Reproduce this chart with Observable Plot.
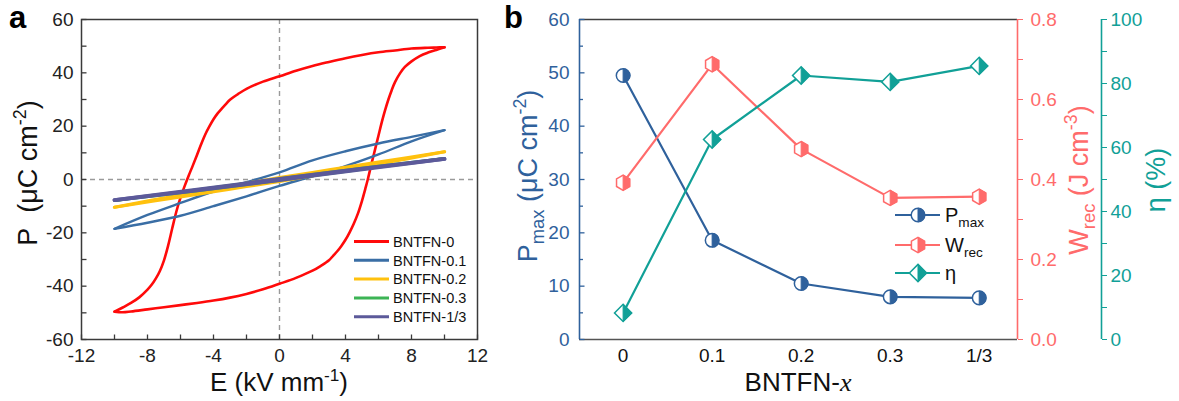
<!DOCTYPE html>
<html><head><meta charset="utf-8">
<script src="https://cdn.jsdelivr.net/npm/d3@7"></script>
<script src="https://cdn.jsdelivr.net/npm/@observablehq/plot@0.6"></script>
<style>
html,body{margin:0;padding:0;background:#fff;}
#wrap{position:relative;width:1179px;height:401px;overflow:hidden;background:#fff;}
#pa{position:absolute;left:0;top:0;}
#pb{position:absolute;left:490px;top:0;}
text{white-space:pre;}
</style></head><body>
<div id="wrap"><div id="pa"></div><div id="pb"></div></div>
<script>
// ---------------- Panel a data (P–E loops) ----------------
const seriesNames  = ["BNTFN-0","BNTFN-0.1","BNTFN-0.2","BNTFN-0.3","BNTFN-1/3"];
const seriesColors = ["#ff0a0a","#3a6ea5","#ffc10e","#3cb455","#5c5a9a"];
const seriesWidths = [2.6,2.4,3.2,2.2,3.8];

const E0_up = [10,9.5,9,8,7,6,5,4,3,2,1,0,-1,-2,-2.5,-3,-3.25,-3.5,-3.75,-4,-4.25,-4.5,-4.75,-5,-5.25,-5.5,-5.75,-6,-6.25,-6.5,-6.75,-7,-7.25,-7.5,-7.75,-8,-8.5,-9,-9.5,-10];
const P0_up = [49.6,49.5,49.4,49.1,48.4,47.7,46.7,45.5,44.1,42.6,40.8,38.7,36.7,34.0,32.1,29.9,28.3,26.6,24.8,22.6,19.9,16.9,13.2,9.2,5.3,1.5,-2.5,-6.8,-12.0,-18.3,-24.8,-30.3,-34.3,-37.2,-39.5,-41.3,-44.2,-46.3,-48.0,-49.6];
const E0_dn = [-10,-9.5,-9,-8,-7,-6,-5,-4,-3,-2,-1,0,1,2,2.5,3,3.25,3.5,3.75,4,4.25,4.5,4.75,5,5.2,5.35,5.6,5.8,6,6.2,6.4,6.6,6.8,7,7.3,7.6,8,8.5,9,9.5,10];
const P0_dn = [-49.6,-49.8,-49.5,-48.7,-47.9,-47.1,-46.3,-45.4,-44.3,-42.9,-41.2,-39.1,-36.9,-34.2,-32.4,-30.3,-28.6,-26.9,-24.9,-22.6,-19.8,-16.6,-12.8,-8.0,-3.5,0,6.5,11.5,16.5,21.5,26.0,30.0,33.5,36.5,39.8,42.2,44.3,46.3,47.6,48.6,49.6];

const E1_up = [10,8,6,4,2,0,-2,-4,-6,-8,-10];
const P1_up = [18.5,16.0,13.5,10.6,7.2,2.7,-1.0,-4.5,-8.8,-13.3,-18.5];
const E1_dn = [-10,-8,-6,-4,-2,0,2,4,6,8,10];
const P1_dn = [-18.5,-16.2,-13.6,-10.0,-6.3,-2.4,1.2,5.0,9.4,14.3,18.5];

const E2_up = [10,6,3,0,-3,-6,-10];
const P2_up = [10.4,6.5,3.6,0.7,-2.5,-5.8,-10.4];
const E2_dn = [-10,-6,-3,0,3,6,10];
const P2_dn = [-10.4,-6.5,-3.6,-0.7,2.5,5.8,10.4];

const E3_up = [10,5,0,-5,-10];
const P3_up = [8.0,4.4,0.4,-3.7,-8.0];
const E3_dn = [-10,-5,0,5,10];
const P3_dn = [-8.0,-4.4,-0.4,3.7,8.0];

const E4_up = [10,5,0,-5,-10];
const P4_up = [7.7,4.1,0.2,-3.8,-7.7];
const E4_dn = [-10,-5,0,5,10];
const P4_dn = [-7.7,-4.1,-0.2,3.8,7.7];

const xTicksA = [-12,-8,-4,0,4,8,12];
const yTicksA = [-60,-40,-20,0,20,40,60];

// ---------------- Panel b data ----------------
const xLabelsB = ["0","0.1","0.2","0.3","1/3"];
const PmaxB = [49.5,18.6,10.5,8.0,7.8];
const WrecB = [0.392,0.688,0.476,0.354,0.357];
const etaB  = [8.3,62.5,82.5,80.5,85.5];
const yTicksB = [0,10,20,30,40,50,60];
const wTicksB = [0,0.1,0.2,0.3,0.4,0.5,0.6,0.7,0.8];
const eTicksB = [0,10,20,30,40,50,60,70,80,90,100];

// ---------------- helpers ----------------
const FF = "'Liberation Sans', Arial, Helvetica, sans-serif";
const FS = "'Liberation Serif', 'DejaVu Serif', serif";
const BLUE = "#2f619c", PINK = "#ff6b6b", TEAL = "#11a097";

const tickSym = (dx, dy) => ({draw(ctx){ ctx.moveTo(0,0); ctx.lineTo(dx,dy); }});
const rr = s => Math.sqrt(s/Math.PI);
const circleFull = {draw(ctx,s){const r=rr(s); ctx.moveTo(r,0); ctx.arc(0,0,r,0,2*Math.PI); ctx.closePath();}};
const circleHalf = {draw(ctx,s){const r=rr(s); ctx.moveTo(0,-r); ctx.arc(0,0,r,-Math.PI/2,Math.PI/2); ctx.closePath();}};
const hexFull = {draw(ctx,s){const r=rr(s), c=r*Math.cos(Math.PI/6); ctx.moveTo(0,-r); ctx.lineTo(c,-r/2); ctx.lineTo(c,r/2); ctx.lineTo(0,r); ctx.lineTo(-c,r/2); ctx.lineTo(-c,-r/2); ctx.closePath();}};
const hexHalf = {draw(ctx,s){const r=rr(s), c=r*Math.cos(Math.PI/6); ctx.moveTo(0,-r); ctx.lineTo(c,-r/2); ctx.lineTo(c,r/2); ctx.lineTo(0,r); ctx.closePath();}};
const diaFull = {draw(ctx,s){const r=rr(s); ctx.moveTo(0,-r); ctx.lineTo(r,0); ctx.lineTo(0,r); ctx.lineTo(-r,0); ctx.closePath();}};
const diaHalf = {draw(ctx,s){const r=rr(s); ctx.moveTo(0,-r); ctx.lineTo(r,0); ctx.lineTo(0,r); ctx.closePath();}};

function rich(sel, {x, y, rot=0, anchor="middle", size, color="#000", weight="normal", parts}) {
  const t = sel.append("text")
    .attr("transform", `translate(${x},${y}) rotate(${rot})`)
    .attr("text-anchor", anchor).attr("font-family", FF)
    .attr("font-size", size).attr("fill", color).attr("font-weight", weight);
  let cur = 0;
  for (const p of parts) {
    const [txt, kind] = typeof p === "string" ? [p, ""] : p;
    const ts = t.append("tspan").text(txt);
    let target = 0, fs = size;
    if (kind === "sup") { target = -0.40*size; fs = 0.66*size; }
    else if (kind === "sub") { target = 0.27*size; fs = 0.68*size; }
    if (kind === "it") ts.attr("font-style","italic").attr("font-family", FS);
    ts.attr("font-size", fs).attr("dy", target - cur);
    cur = target;
  }
  return t;
}

// ---------------- Panel a ----------------
const branches = [
  [[E0_up,P0_up],[E0_dn,P0_dn]],
  [[E1_up,P1_up],[E1_dn,P1_dn]],
  [[E2_up,P2_up],[E2_dn,P2_dn]],
  [[E3_up,P3_up],[E3_dn,P3_dn]],
  [[E4_up,P4_up],[E4_dn,P4_dn]]
];
const lineMarks = [];
branches.forEach((br, si) => {
  const rows = [];
  br.forEach(([E,P], bi) => E.forEach((e,i) => rows.push({E:e, P:P[i], key: bi})));
  lineMarks.push(Plot.line(rows, {x:"E", y:"P", z:"key", stroke: seriesColors[si], strokeWidth: seriesWidths[si], curve:"catmull-rom"}));
});

const plotA = Plot.plot({
  width: 490, height: 401, marginLeft: 81, marginRight: 13, marginTop: 19, marginBottom: 62,
  style: {fontFamily: FF, fontSize: "19px", color: "#222", background: "white", overflow: "visible"},
  x: {domain: [-12,12]}, y: {domain: [-60,60]},
  marks: [
    Plot.ruleX([0], {stroke:"#9a9a9a", strokeWidth:1.4, strokeDasharray:"5,4"}),
    Plot.ruleY([0], {stroke:"#9a9a9a", strokeWidth:1.4, strokeDasharray:"5,4"}),
    ...lineMarks,
    Plot.frame({stroke:"#3a3a3a", strokeWidth:1.5}),
    Plot.dot(d3.range(-60,61,10), {y:d=>d, frameAnchor:"left", symbol: tickSym(5,0), r:3, fill:"none", stroke:"#3a3a3a", strokeWidth:1.3}),
    Plot.dot(d3.range(-12,13,2), {x:d=>d, frameAnchor:"bottom", symbol: tickSym(0,-5), r:3, fill:"none", stroke:"#3a3a3a", strokeWidth:1.3}),
    Plot.axisX({ticks: xTicksA, tickFormat: d=>String(d), tickSize:0, tickPadding:9, label:null, fill:"#222"}),
    Plot.axisY({ticks: yTicksA, tickFormat: d=>String(d), tickSize:0, tickPadding:8, label:null, fill:"#222"})
  ]
});
document.getElementById("pa").appendChild(plotA);
const sa = d3.select(plotA);
rich(sa, {x:9, y:28, anchor:"start", size:31, weight:"bold", parts:["a"]});
rich(sa, {x:37, y:173, rot:-90, size:27, color:"#111", parts:["P\u00a0 (μC cm", ["-2","sup"], ")"]});
rich(sa, {x:279, y:391, size:26, color:"#111", parts:["E (kV mm", ["-1","sup"], ")"]});
// legend a
seriesNames.forEach((nm, i) => {
  const yy = 241.5 + i*18.8;
  sa.append("line").attr("x1",354).attr("x2",389).attr("y1",yy).attr("y2",yy)
    .attr("stroke", seriesColors[i]).attr("stroke-width", 3);
  rich(sa, {x:393, y:yy+5.2, anchor:"start", size:14.5, color:"#111", parts:[nm]});
});

// ---------------- Panel b ----------------
const xDomB = [-0.49, 4.43];
const wScale = 60/0.8, eScale = 60/100;
const rowsB = xLabelsB.map((l,i) => ({i, pm: PmaxB[i], w: WrecB[i]*wScale, e: etaB[i]*eScale}));

function series(key, color, full, half, r) {
  return [
    Plot.line(rowsB, {x:"i", y:key, stroke: color, strokeWidth: 2.2}),
    Plot.dot(rowsB, {x:"i", y:key, symbol: full, r, fill:"white", stroke: color, strokeWidth: 1.5}),
    Plot.dot(rowsB, {x:"i", y:key, symbol: half, r, fill: color, stroke: color, strokeWidth: 1})
  ];
}

const plotB = Plot.plot({
  width: 689, height: 401, marginLeft: 89, marginRight: 162, marginTop: 19, marginBottom: 62,
  style: {fontFamily: FF, fontSize: "19px", color: "#222", background: "white", overflow: "visible"},
  x: {domain: xDomB}, y: {domain: [0,60]},
  marks: [
    Plot.ruleY([60], {stroke:"#404040", strokeWidth:1.6}),
    Plot.ruleY([0], {stroke:"#555", strokeWidth:1.6}),
    Plot.ruleX([xDomB[0]], {stroke: BLUE, strokeWidth:1.6}),
    Plot.ruleX([xDomB[1]], {stroke: PINK, strokeWidth:1.6}),
    Plot.ruleX([xDomB[1]], {dx: 84, stroke: TEAL, strokeWidth:1.6}),
    Plot.dot(d3.range(0,61,10), {y:d=>d, frameAnchor:"left", symbol: tickSym(5,0), r:3, fill:"none", stroke: BLUE, strokeWidth:1.3}),
    Plot.dot(d3.range(5,60,10), {y:d=>d, frameAnchor:"left", symbol: tickSym(3.5,0), r:3, fill:"none", stroke: BLUE, strokeWidth:1.3}),
    Plot.axisY({anchor:"left", ticks: yTicksB, tickFormat: d=>String(d), tickSize:0, tickPadding:10, label:null, color: BLUE}),
    Plot.axisY({anchor:"right", ticks: wTicksB.map(v=>v*wScale), tickFormat: d => (Math.round(d/wScale*10)%2===0 ? (d/wScale).toFixed(1) : ""), tickSize:5, tickPadding:8, label:null, color: PINK}),
    Plot.axisY({anchor:"right", ticks: eTicksB.map(v=>v*eScale), tickFormat: d => (Math.round(d/eScale/10)%2===0 ? String(Math.round(d/eScale)) : ""), tickSize:5, tickPadding:4, dx:84, label:null, color: TEAL}),
    Plot.axisX({ticks:[0,1,2,3,4], tickFormat: i=>xLabelsB[i], tickSize:0, tickPadding:9, label:null, fill:"#111"}),
    ...series("pm", BLUE, circleFull, circleHalf, 6.8),
    ...series("w", PINK, hexFull, hexHalf, 7.6),
    ...series("e", TEAL, diaFull, diaHalf, 8.6)
  ]
});
document.getElementById("pb").appendChild(plotB);
const sb = d3.select(plotB);
rich(sb, {x:14, y:28, anchor:"start", size:31, weight:"bold", parts:["b"]});
rich(sb, {x:47, y:176, rot:-90, size:27, color: BLUE, parts:["P", ["max","sub"], " (μC cm", ["-2","sup"], ")"]});
rich(sb, {x:598, y:180, rot:-90, size:27, color: PINK, parts:["W", ["rec","sub"], " (J cm", ["-3","sup"], ")"]});
rich(sb, {x:675, y:180, rot:-90, size:27, color: TEAL, parts:["η (%)"]});
rich(sb, {x:308, y:391, size:26, color:"#111", parts:["BNTFN-", ["x","it"]]});
// legend b
const legB = [
  {c: BLUE, full: circleFull, half: circleHalf, r: 6.8, parts:["P", ["max","sub"]]},
  {c: PINK, full: hexFull, half: hexHalf, r: 7.6, parts:["W", ["rec","sub"]]},
  {c: TEAL, full: diaFull, half: diaHalf, r: 8.6, parts:["η"]}
];
legB.forEach((d, i) => {
  const yy = [215, 245, 273][i];
  sb.append("line").attr("x1",405).attr("x2",450).attr("y1",yy).attr("y2",yy).attr("stroke", d.c).attr("stroke-width", 2.2);
  sb.append("path").attr("transform",`translate(428,${yy})`).attr("d", d3.symbol().type(d.full).size(Math.PI*d.r*d.r)())
    .attr("fill","white").attr("stroke", d.c).attr("stroke-width",1.5);
  sb.append("path").attr("transform",`translate(428,${yy})`).attr("d", d3.symbol().type(d.half).size(Math.PI*d.r*d.r)())
    .attr("fill", d.c).attr("stroke", d.c).attr("stroke-width",1);
  rich(sb, {x:455, y:yy+7, anchor:"start", size:20, color:"#111", parts: d.parts});
});
</script></body></html>
